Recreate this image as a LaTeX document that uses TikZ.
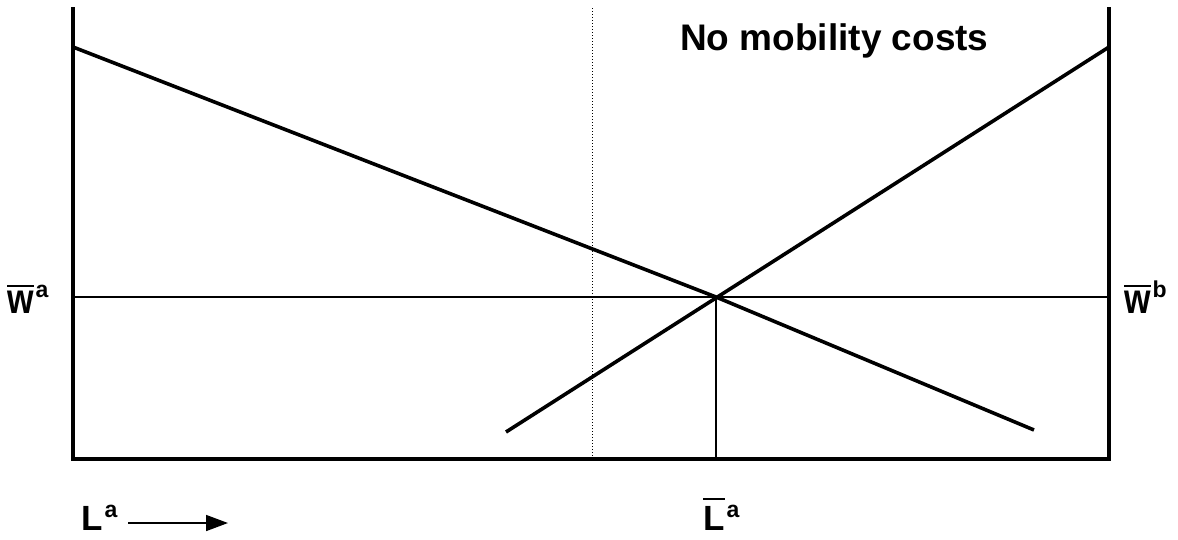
\documentclass[tikz,border=0pt]{standalone}
\usepackage{fontspec}
\setmainfont{Liberation Sans}
\usetikzlibrary{arrows.meta}
\newcommand{\obar}[2]{\leavevmode\vbox{\hrule height 2pt\kern #1\hbox{#2}}}
\newcommand{\supr}[2]{\kern2pt\raisebox{#1}{\fontsize{23}{23}\selectfont\bfseries #2}}
\newcommand{\tallw}{\scalebox{1}[1.25]{w}}
\begin{document}
\begin{tikzpicture}[x=1pt,y=-1pt,
  thick line/.style={line width=3.6pt},
  thin line/.style={line width=1.6pt},
  lbl/.style={inner sep=0pt,font=\fontsize{34}{34}\selectfont\bfseries},
  title/.style={inner sep=0pt,font=\fontsize{37}{37}\selectfont\bfseries}]
\useasboundingbox (0,0) rectangle (1178,539);
% axes
\coordinate (tl) at (73,7);
\coordinate (bl) at (73,459);
\coordinate (br) at (1109,459);
\coordinate (tr) at (1109,7);
\draw[thick line,line join=miter] (tl) -- (bl) -- (br) -- (tr);
% dotted line
\coordinate (dt) at (592,8);
\coordinate (db) at (592,459);
\draw[line width=1pt,dash pattern=on 1pt off 2pt] (dt) -- (db);
% horizontal wage line
\coordinate (hl) at (73,297);
\coordinate (hr) at (1109,297);
\draw[thin line] (hl) -- (hr);
% equilibrium vertical
\coordinate (eq) at (716,297);
\coordinate (eqb) at (716,459);
\draw[thin line] (eq) -- (eqb);
% demand curves
\coordinate (d1s) at (73,47);
\coordinate (d1e) at (1034,430);
\draw[thick line] (d1s) -- (eq) -- (d1e);
\coordinate (d2s) at (506,432);
\coordinate (d2e) at (1109,47);
\draw[thick line] (d2s) -- (d2e);
% labels
\node[title,anchor=base west] (ttl) at (680,50) {No mobility costs};
\node[lbl,anchor=base west] (wa) at (7,313) {\obar{4pt}{\tallw}\supr{16pt}{a}};
\node[lbl,anchor=base west] (wb) at (1124,313) {\obar{4pt}{\tallw}\supr{16pt}{b}};
\node[lbl,anchor=base west,font=\fontsize{35}{35}\selectfont\bfseries] (la) at (81,530) {L\supr{13pt}{a}};
\node[lbl,anchor=base west,font=\fontsize{35}{35}\selectfont\bfseries] (lbar) at (703,530) {\obar{6pt}{L}\supr{13pt}{a}};
\coordinate (as) at (128,523);
\coordinate (ae) at (228,523);
\draw[thin line,-{Triangle[length=22pt,width=16pt]}] (as) -- (ae);
\end{tikzpicture}
\end{document}
